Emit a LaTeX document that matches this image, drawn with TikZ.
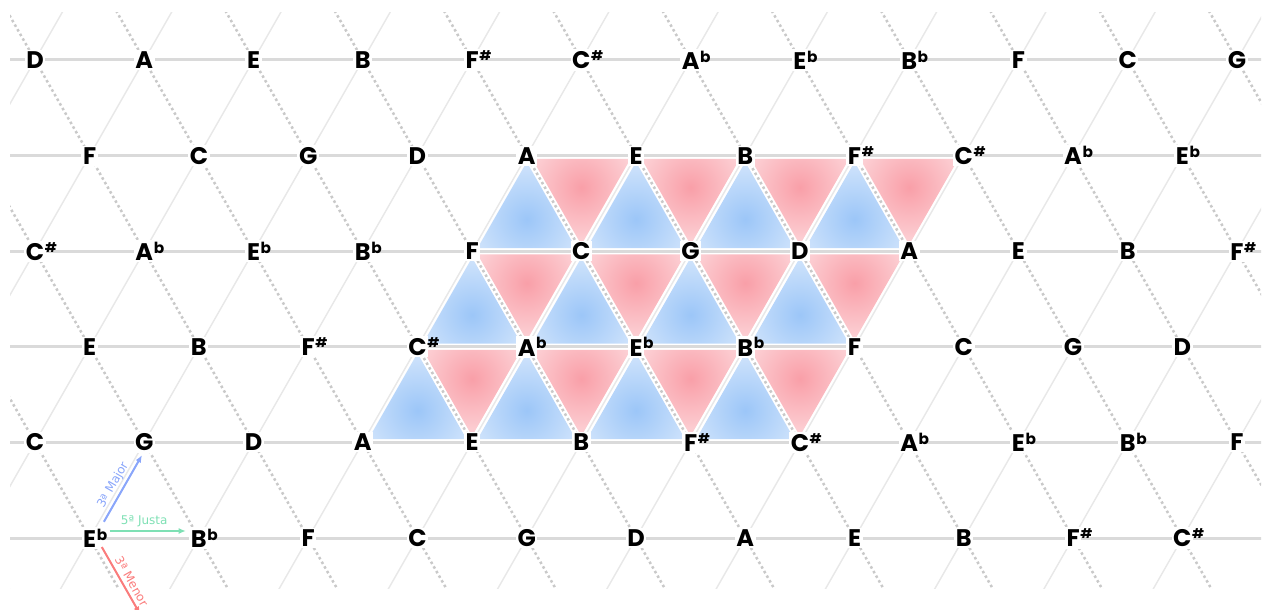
\documentclass[tikz,border=0pt]{standalone}
\usepackage{fontspec}
\usetikzlibrary{calc,arrows.meta}
\newfontfamily\notefont{Poppins}
\newfontfamily\lblfont{DejaVu Sans}
\definecolor{hline}{HTML}{DADADA}
\definecolor{sline}{HTML}{E8E8E8}
\definecolor{dline}{HTML}{C9C9C9}
\definecolor{redc}{HTML}{F99FA8}
\definecolor{rede}{HTML}{FDE0E3}
\definecolor{bluec}{HTML}{9CC6F8}
\definecolor{bluee}{HTML}{DDEBFC}
\definecolor{majc}{HTML}{8AA6FA}
\definecolor{justc}{HTML}{7EE0B4}
\definecolor{menc}{HTML}{FA7C7C}
\newcommand\shp[1]{#1\rlap{\kern0.5pt\raisebox{6pt}{\fontsize{10}{10}\selectfont\#}}}
\newcommand\flt[1]{#1\rlap{\kern0.5pt\raisebox{5.5pt}{\fontsize{11.5}{11.5}\selectfont b}}}
\def\noterows{0/{D,A,E,B,\shp F,\shp C,\flt A,\flt E,\flt B,F,C,G},
1/{F,C,G,D,A,E,B,\shp F,\shp C,\flt A,\flt E},
2/{\shp C,\flt A,\flt E,\flt B,F,C,G,D,A,E,B,\shp F},
3/{E,B,\shp F,\shp C,\flt A,\flt E,\flt B,F,C,G,D},
4/{C,G,D,A,E,B,\shp F,\shp C,\flt A,\flt E,\flt B,F},
5/{\flt E,\flt B,F,C,G,D,A,E,B,\shp F,\shp C}}
\newcommand\mytri[4]{%
  \coordinate (tc) at (barycentric cs:#2=1,#3=1,#4=1);
  \begin{scope}
    \clip ($(tc)!0.9!(#2)$) -- ($(tc)!0.9!(#3)$) -- ($(tc)!0.9!(#4)$) -- cycle;
    \shade[inner color=#1c,outer color=#1e] (tc) circle (72);
  \end{scope}}
\begin{document}
\begin{tikzpicture}[x=0.75pt,y=-0.75pt,
  hl/.style={draw=hline,line width=2.25pt},
  sl/.style={draw=sline,line width=1.1pt},
  dl/.style={draw=dline,line width=1.9pt,dash pattern=on 1.9pt off 2.1pt},
  note/.style={font=\notefont\bfseries\fontsize{18}{18}\selectfont,fill=white,inner sep=1.2pt,text=black},
  arr/.style={line width=1.5pt,-{Latex[length=5.5pt,width=4.5pt]}},
  lbl/.style={font=\lblfont\fontsize{9}{9}\selectfont,inner sep=0.5pt}]
\useasboundingbox (0,0) rectangle (1271,610);
% vertex coordinates
\foreach \r/\lst in \noterows {
  \foreach \nm [count=\k from 0] in \lst {
    \pgfmathsetmacro\xx{35+mod(\r,2)*54.635+\k*109.27}
    \pgfmathsetmacro\yy{60+\r*95.6}
    \coordinate (p-\r-\k) at (\xx,\yy);
  }
}
% grid
\begin{scope}
  \clip (10,13) rectangle (1261,588);
  \foreach \r in {0,...,5} \draw[hl] (0,{60+\r*95.6}) -- (1271,{60+\r*95.6});
  \foreach \k in {-1,...,14} \draw[sl] ({35+\k*109.27+54.635},-35.6) -- ({35+\k*109.27-327.81},633.6);
  \foreach \k in {-4,...,12} \draw[dl] ({35+\k*109.27-54.635},-35.6) -- ({35+\k*109.27+327.81},633.6);
\end{scope}
% triangles
\foreach \k [evaluate=\k as \kk using int(\k+1)] in {4,...,7} {
  \mytri{red}{p-1-\k}{p-1-\kk}{p-2-\kk}
  \mytri{blue}{p-2-\k}{p-2-\kk}{p-1-\k}
  \mytri{red}{p-2-\k}{p-2-\kk}{p-3-\k}
}
\foreach \k [evaluate=\k as \kk using int(\k+1)] in {3,...,6} {
  \mytri{blue}{p-3-\k}{p-3-\kk}{p-2-\kk}
  \mytri{red}{p-3-\k}{p-3-\kk}{p-4-\kk}
  \mytri{blue}{p-4-\k}{p-4-\kk}{p-3-\k}
}
% note names
\foreach \r/\lst in \noterows {
  \foreach \nm [count=\k from 0] in \lst {
    \node[note] (n-\r-\k) at (p-\r-\k) {\nm};
  }
}
% interval arrows
\coordinate (m) at ($(p-5-0)+(54.635,95.6)$);
\draw[arr,majc,shorten <=14pt,shorten >=11pt] ([xshift=3.75pt]n-5-0.center) -- node[lbl,sloped,above=2pt,text=majc]{3ª Major} ([xshift=3.75pt]n-4-1.center);
\draw[arr,justc,shorten <=15pt,shorten >=9.75pt] ([yshift=5.25pt]n-5-0.center) -- node[lbl,above=2pt,text=justc]{5ª Justa} ([yshift=5.25pt]n-5-1.center);
\draw[arr,menc,shorten <=7.8pt,shorten >=17pt] ([xshift=5.25pt]n-5-0.center) -- node[lbl,sloped,above=2pt,text=menc]{3ª Menor} ([xshift=5.25pt]m);
\end{tikzpicture}
\end{document}
